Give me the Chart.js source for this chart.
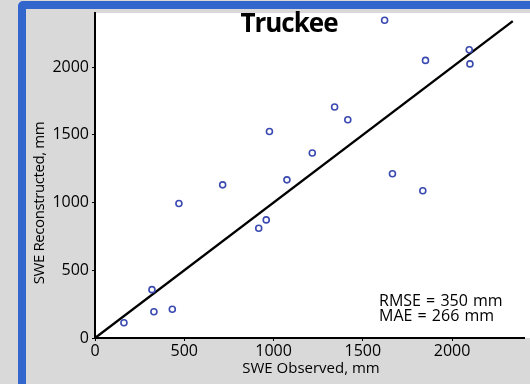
<!DOCTYPE html>
<html>
<head>
<meta charset="utf-8">
<script src="https://cdn.jsdelivr.net/npm/chart.js@4.4.1/dist/chart.umd.min.js"></script>
<style>
  html, body { margin: 0; padding: 0; width: 530px; height: 384px; overflow: hidden; background: #d9d9d9; }
  .frame { position: absolute; left: 18px; top: 1px; width: 560px; height: 400px; border: 8px solid #3366cc; border-radius: 5px; background: #d9d9d9; }
  #wrap { position: absolute; left: 0; top: 0; width: 530px; height: 384px; }
  .lbl { position: absolute; font-family: "Open Sans", sans-serif; color: #000; white-space: nowrap; }
  #title { left: 189px; top: 9px; width: 200px; text-align: center; font-size: 26px; font-weight: 700; letter-spacing: -1px; line-height: 1; }
  #stats { left: 379px; top: 293px; font-size: 16px; line-height: 15px; word-spacing: 1px; }
  #xTitle { left: 211px; top: 360px; width: 200px; text-align: center; font-size: 15px; line-height: 1; }
  #yTitle { left: -62px; top: 195px; width: 200px; text-align: center; font-size: 15px; line-height: 16px; transform: rotate(-90deg); letter-spacing: -0.4px; }
</style>
</head>
<body>
<div class="frame"></div>
<div id="wrap"><canvas id="chart" width="530" height="384"></canvas></div>
<div class="lbl" id="title"></div>
<div class="lbl" id="stats"></div>
<div class="lbl" id="xTitle"></div>
<div class="lbl" id="yTitle"></div>
<script>
const siteName = 'Truckee';
const xLabel = 'SWE Observed, mm';
const yLabel = 'SWE Reconstructed, mm';
const statLines = ['RMSE = 350 mm', 'MAE = 266 mm'];

// observed vs reconstructed SWE (mm)
const obsSWE = [1622, 1851, 2096, 2100, 1342, 1416, 977, 1217, 715, 470, 1075, 1666, 1836, 959, 917, 319, 330, 433, 162];
const recSWE = [2346, 2050, 2129, 2024, 1706, 1612, 1525, 1366, 1131, 993, 1168, 1213, 1087, 872, 811, 357, 194, 212, 113];

// 1:1 line end points
const lineX = [0, 2340];
const lineY = [0, 2340];

const xMax = 2405;
const yMax = 2400;
const tickValues = [0, 500, 1000, 1500, 2000];

document.getElementById('title').innerText = siteName;
document.getElementById('xTitle').innerText = xLabel;
document.getElementById('yTitle').innerText = yLabel;
document.getElementById('stats').innerHTML = statLines.join('<br>');

const whiteArea = {
    id: 'whiteArea',
    beforeDraw(chart) {
        const a = chart.chartArea;
        const ctx = chart.ctx;
        ctx.save();
        ctx.fillStyle = '#ffffff';
        ctx.fillRect(a.left, a.top, chart.width - a.left, a.bottom - a.top);
        ctx.restore();
    }
};

const setTicks = scale => {
    scale.ticks = tickValues.map(v => ({ value: v }));
};
const plainNum = v => String(v);

new Chart(document.getElementById('chart'), {
    type: 'scatter',
    data: {
        datasets: [
            {
                data: obsSWE.map((x, i) => ({ x: x, y: recSWE[i] })),
                pointStyle: 'circle',
                pointRadius: 3,
                pointBorderWidth: 1.6,
                pointBorderColor: '#3a4ab0',
                pointBackgroundColor: 'rgba(0,0,0,0)'
            },
            {
                type: 'line',
                data: lineX.map((x, i) => ({ x: x, y: lineY[i] })),
                borderColor: '#000000',
                borderWidth: 2.4,
                pointRadius: 0,
                fill: false
            }
        ]
    },
    options: {
        responsive: false,
        animation: false,
        layout: { padding: { top: 13, right: 0, bottom: 0, left: 0 } },
        plugins: { legend: { display: false }, tooltip: { enabled: false } },
        scales: {
            x: {
                type: 'linear',
                min: 0,
                max: xMax,
                afterBuildTicks: setTicks,
                afterFit: s => { s.height = 46; },
                grid: { drawOnChartArea: false, drawTicks: true, tickLength: 3, color: '#000' },
                border: { color: '#000', width: 2 },
                ticks: { autoSkip: false, callback: plainNum, padding: 1, color: '#000', maxRotation: 0, font: { family: 'Open Sans', size: 16 } }
            },
            y: {
                type: 'linear',
                min: 0,
                max: yMax,
                afterBuildTicks: setTicks,
                afterFit: s => { s.width = 95; },
                grid: { drawOnChartArea: false, drawTicks: true, tickLength: 3, color: '#000' },
                border: { color: '#000', width: 2 },
                ticks: { autoSkip: false, callback: plainNum, padding: 3, color: '#000', font: { family: 'Open Sans', size: 16 } }
            }
        }
    },
    plugins: [whiteArea]
});
</script>
</body>
</html>
